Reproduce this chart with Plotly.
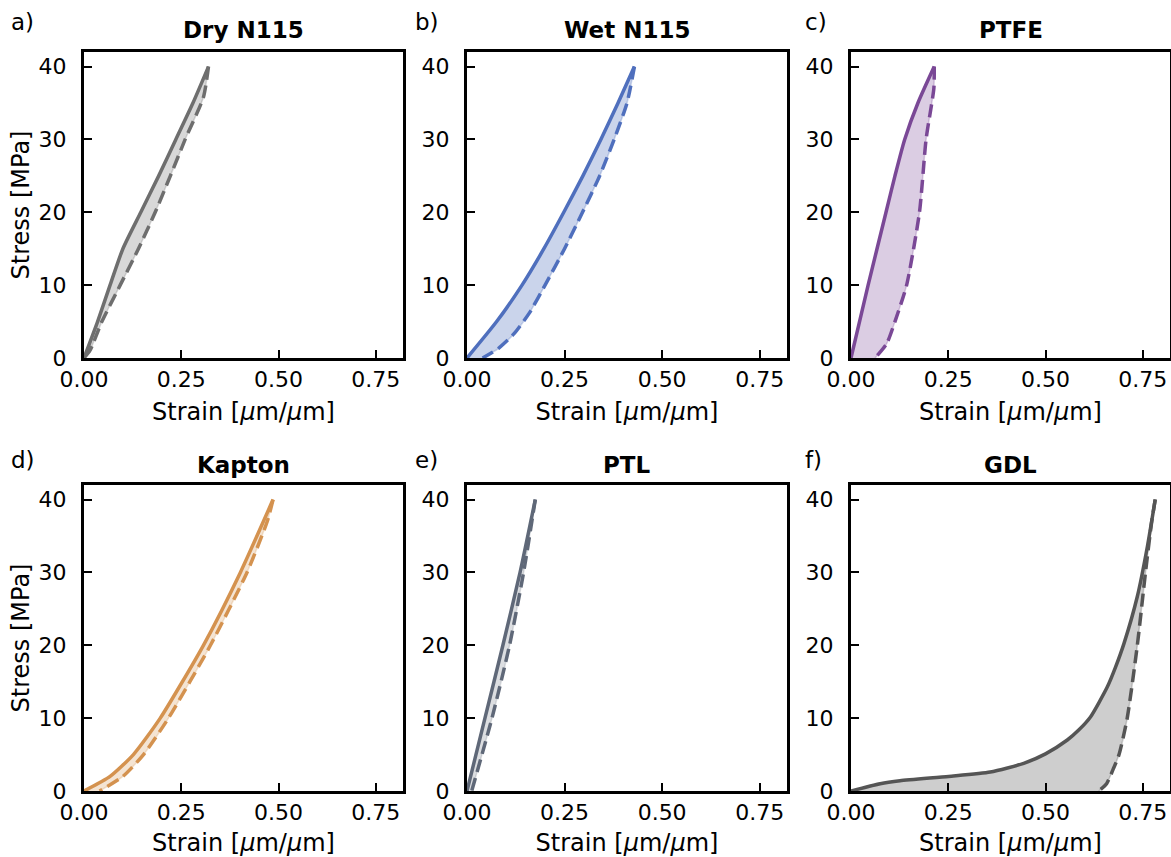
import plotly.graph_objects as go

# ---------------- data (strain [um/um], stress [MPa]) ----------------
titles = ["Dry N115", "Wet N115", "PTFE", "Kapton", "PTL", "GDL"]
panel_labels = ["a)", "b)", "c)", "d)", "e)", "f)"]

dry_load_x = [0.0, 0.035, 0.067, 0.10, 0.146, 0.192, 0.236, 0.28, 0.32]
dry_load_y = [0.0, 5.0, 10.0, 15.0, 20.0, 25.0, 30.0, 35.0, 40.0]
dry_unload_x = [0.32, 0.307, 0.26, 0.222, 0.183, 0.14, 0.093, 0.046, 0.015, 0.0]
dry_unload_y = [40.0, 35.8, 30.0, 25.0, 20.0, 15.0, 10.0, 5.0, 1.0, 0.0]

wet_load_x = [0.0, 0.076, 0.141, 0.197, 0.248, 0.297, 0.343, 0.387, 0.429]
wet_load_y = [0.0, 5.0, 10.0, 15.0, 20.0, 25.0, 30.0, 35.0, 40.0]
wet_unload_x = [0.429, 0.41, 0.377, 0.34, 0.296, 0.25, 0.20, 0.16, 0.12, 0.08, 0.04]
wet_unload_y = [40.0, 35.0, 30.0, 25.0, 20.0, 15.0, 10.0, 6.2, 3.3, 1.3, 0.0]

ptfe_load_x = [0.0, 0.044, 0.09, 0.113, 0.138, 0.172, 0.214]
ptfe_load_y = [0.0, 10.0, 20.0, 25.0, 30.0, 35.0, 40.0]
ptfe_unload_x = [0.214, 0.213, 0.193, 0.176, 0.143, 0.113, 0.092, 0.062]
ptfe_unload_y = [40.0, 37.0, 30.0, 20.0, 10.0, 5.0, 2.0, 0.0]

kap_load_x = [0.0, 0.067, 0.127, 0.196, 0.307, 0.402, 0.486]
kap_load_y = [0.0, 2.0, 5.0, 10.0, 20.0, 30.0, 40.0]
kap_unload_x = [0.486, 0.471, 0.419, 0.325, 0.217, 0.153, 0.10, 0.04]
kap_unload_y = [40.0, 37.0, 30.0, 20.0, 10.0, 5.0, 2.0, 0.0]

ptl_load_x = [0.0, 0.046, 0.092, 0.136, 0.175]
ptl_load_y = [0.0, 10.0, 20.0, 30.0, 40.0]
ptl_unload_x = [0.175, 0.145, 0.109, 0.064, 0.012]
ptl_unload_y = [40.0, 30.0, 20.0, 10.0, 0.0]

gdl_load_x = [0.0, 0.075, 0.126, 0.251, 0.358, 0.444, 0.50, 0.556, 0.586, 0.616, 0.659, 0.68,
              0.702, 0.736, 0.762, 0.782]
gdl_load_y = [0.0, 1.0, 1.4, 2.0, 2.6, 3.8, 5.1, 7.0, 8.4, 10.2, 14.3, 17.0,
              20.3, 26.7, 33.6, 40.0]
gdl_unload_x = [0.782, 0.773, 0.757, 0.736, 0.71, 0.689, 0.674, 0.657, 0.637]
gdl_unload_y = [40.0, 37.0, 30.0, 20.0, 10.0, 5.0, 3.0, 1.0, 0.0]

x_ticks = [0.0, 0.25, 0.5, 0.75]
y_ticks = [0, 10, 20, 30, 40]

line_colors = ["#6e6e6e", "#4f6fbd", "#7a4896", "#d4924f", "#5f6878", "#555555"]
fill_colors = ["rgba(110,110,110,0.27)", "rgba(79,111,189,0.30)", "rgba(122,72,150,0.27)",
               "rgba(212,146,79,0.25)", "rgba(95,104,120,0.22)", "rgba(85,85,85,0.29)"]

loads = [(dry_load_x, dry_load_y), (wet_load_x, wet_load_y), (ptfe_load_x, ptfe_load_y),
         (kap_load_x, kap_load_y), (ptl_load_x, ptl_load_y), (gdl_load_x, gdl_load_y)]
unloads = [(dry_unload_x, dry_unload_y), (wet_unload_x, wet_unload_y), (ptfe_unload_x, ptfe_unload_y),
           (kap_unload_x, kap_unload_y), (ptl_unload_x, ptl_unload_y), (gdl_unload_x, gdl_unload_y)]

# ---------------- layout geometry ----------------
W, H = 1171, 857
col_px = [(84, 403), (467, 787), (851, 1170)]
row_px = [(52, 358), (485, 791)]
label_px = [9, 413, 803]
title_cy = [30, 465]
label_cy = [22, 460]

FONT = "DejaVu Sans"
fig = go.Figure()
layout = dict(
    width=W, height=H, margin=dict(l=0, r=0, t=0, b=0, autoexpand=False),
    paper_bgcolor="white", plot_bgcolor="white", showlegend=False,
    font=dict(family=FONT, size=22, color="black"),
)
annotations = []

for i in range(6):
    r, c = divmod(i, 3)
    ax = "" if i == 0 else str(i + 1)
    xa, ya = "x" + ax, "y" + ax
    x0, x1 = col_px[c]
    t0, t1 = row_px[r]
    xdom = [x0 / W, x1 / W]
    ydom = [1 - t1 / H, 1 - t0 / H]

    lx, ly = loads[i]
    ux, uy = unloads[i]
    # filled hysteresis area
    fig.add_trace(go.Scatter(x=list(lx) + list(ux), y=list(ly) + list(uy), mode="lines",
                             fill="toself", fillcolor=fill_colors[i],
                             line=dict(color=fill_colors[i], width=1.5, shape="spline", smoothing=0.6),
                             xaxis=xa, yaxis=ya, hoverinfo="skip"))
    fig.add_trace(go.Scatter(x=lx, y=ly, mode="lines",
                             line=dict(color=line_colors[i], width=3.5, shape="spline", smoothing=0.6),
                             xaxis=xa, yaxis=ya))
    fig.add_trace(go.Scatter(x=ux, y=uy, mode="lines",
                             line=dict(color=line_colors[i], width=3.5, dash="13px,6px",
                                       shape="spline", smoothing=0.6),
                             xaxis=xa, yaxis=ya))

    axis_common = dict(showline=True, linecolor="black", linewidth=3, mirror=True,
                       ticks="inside", ticklen=8, tickwidth=2, tickcolor="black",
                       showgrid=False, zeroline=False, automargin=False,
                       tickfont=dict(family=FONT, size=22, color="black"))
    layout["xaxis" + ax] = dict(axis_common, domain=xdom, range=[0, 0.82], tickvals=x_ticks,
                                tickformat=".2f", anchor=ya, ticklabelstandoff=0,
                                title=dict(text="Strain [<i>μ</i>m/<i>μ</i>m]", standoff=12,
                                           font=dict(family=FONT, size=24)))
    ydict = dict(axis_common, domain=ydom, range=[0, 42], tickvals=y_ticks, anchor=xa,
                 ticklabelstandoff=10)
    if c == 0:
        ydict["title"] = dict(text="Stress [MPa]", standoff=3, font=dict(family=FONT, size=24))
    layout["yaxis" + ax] = ydict

    annotations.append(dict(text="<b>" + titles[i] + "</b>", x=(xdom[0] + xdom[1]) / 2,
                            y=1 - title_cy[r] / H,
                            xref="paper", yref="paper", showarrow=False,
                            xanchor="center", yanchor="middle",
                            font=dict(family=FONT, size=23, color="black")))
    annotations.append(dict(text=panel_labels[i], x=label_px[c] / W,
                            y=1 - label_cy[r] / H,
                            xref="paper", yref="paper", showarrow=False,
                            xanchor="left", yanchor="middle",
                            font=dict(family=FONT, size=23, color="black")))

layout["annotations"] = annotations
fig.update_layout(**layout)
fig.write_html("out.html")
